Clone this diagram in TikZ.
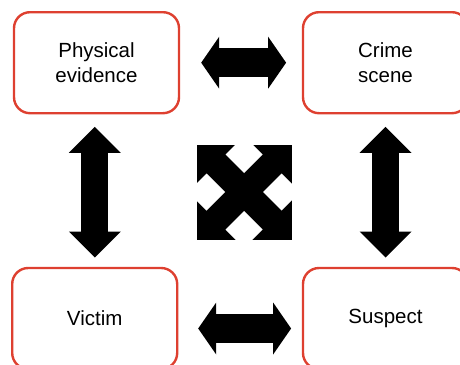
\documentclass[tikz,border=0pt]{standalone}
\usepackage{fontspec}
\setmainfont{Liberation Sans}
\usepackage{tikz}
\usetikzlibrary{arrows.meta, calc}

\definecolor{boxred}{RGB}{222,64,48}

\begin{document}
\begin{tikzpicture}[x=1pt, y=-1pt,
    box/.style={draw=boxred, line width=2.4pt, rounded corners=16pt, minimum width=165pt, minimum height=101pt, align=center, font=\fontsize{20.5}{25.5}\selectfont},
    hlink/.style={line width=29pt, arrows={Triangle[length=18pt, width=52pt, line width=0pt]-Triangle[length=18pt, width=52pt, line width=0pt]}},
    vlink/.style={line width=27pt, arrows={Triangle[length=26pt, width=52pt, line width=0pt]-Triangle[length=26pt, width=52pt, line width=0pt]}}]
  \clip (0,0) rectangle (460,364);
  \node[box] (pe) at (96.5,62.7) {Physical\\evidence};
  \node[box] (cs) at (385.5,62.7) {Crime\\scene};
  \node[box] (vi) at (94.7,318.5) {Victim};
  \node[box] (su) at (385.5,318.5) {Suspect};
  % links between the boxes
  \draw[hlink, shorten <=21pt, shorten >=15.7pt] (pe.east) -- (cs.west);
  \draw[hlink, shorten <=19.8pt, shorten >=10.7pt] ([yshift=-10pt]vi.east) -- ([yshift=-10pt]su.west);
  \draw[vlink, shorten <=12.5pt, shorten >=9.3pt] ([xshift=-1.7pt]pe.south) -- ([xshift=-1.7pt]pe.south |- vi.north);
  \draw[vlink, shorten <=12.5pt, shorten >=9.3pt] (cs.south) -- (su.north);
  % cross in the middle
  \begin{scope}[shift={(244,192)}]
    \fill (-47.5,-47.5) rectangle (47.5,47.5);
    \foreach \a in {0,90,180,270}
      \fill[white, rotate=\a] (0,56) -- (18.5,37.5) -- (0,19) -- (-18.5,37.5) -- cycle;
  \end{scope}
\end{tikzpicture}
\end{document}
